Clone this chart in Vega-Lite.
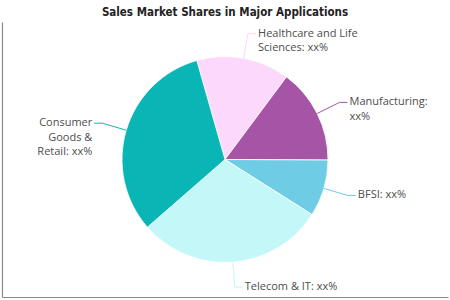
{
  "$schema": "https://vega.github.io/schema/vega-lite/v6.json",
  "width": 446,
  "height": 275,
  "autosize": {"type": "none"},
  "padding": {"left": 2, "top": 22, "right": 2, "bottom": 3},
  "background": "#ffffff",
  "config": {"view": {"stroke": null}},
  "title": {
    "text": "Sales Market Shares in Major Applications",
    "anchor": "middle",
    "font": "DejaVu Sans Condensed",
    "fontSize": 11.5,
    "fontWeight": "bold",
    "color": "#222222",
    "baseline": "alphabetic",
    "offset": 7,
    "dy": 12
  },
  "data": {
    "values": [
      {"category": "Healthcare and Life Sciences", "label": "Healthcare and Life\nSciences: xx%", "share": 14.6},
      {"category": "Manufacturing", "label": "Manufacturing:\nxx%", "share": 14.9},
      {"category": "BFSI", "label": "BFSI: xx%", "share": 8.9},
      {"category": "Telecom & IT", "label": "Telecom & IT: xx%", "share": 29.6},
      {"category": "Consumer Goods & Retail", "label": "Consumer\nGoods &\nRetail: xx%", "share": 32.0}
    ]
  },
  "transform": [
    {"stack": "share", "groupby": [], "as": ["start", "end"]},
    {"calculate": "(datum.start + datum.end) / 2", "as": "mid"},
    {"calculate": "-0.2775 + 2 * PI * datum.mid / 100", "as": "ang"},
    {"calculate": "103 * sin(datum.ang)", "as": "x1"},
    {"calculate": "103 * cos(datum.ang)", "as": "y1"},
    {"calculate": "128 * sin(datum.ang)", "as": "xe"},
    {"calculate": "128 * cos(datum.ang)", "as": "ye"},
    {"calculate": "datum.xe + (sin(datum.ang) >= 0 ? 8 : -8)", "as": "xt"}
  ],
  "layer": [
    {
      "mark": {"type": "arc", "outerRadius": 103, "stroke": "#ffffff", "strokeWidth": 0.8},
      "encoding": {
        "theta": {"field": "start", "type": "quantitative", "scale": {"domain": [0, 100], "range": [-0.2775, 6.0057]}},
        "theta2": {"field": "end"},
        "color": {
          "field": "category",
          "type": "nominal",
          "legend": null,
          "scale": {
            "domain": ["Healthcare and Life Sciences", "Manufacturing", "BFSI", "Telecom & IT", "Consumer Goods & Retail"],
            "range": ["#fcd8fc", "#a654a6", "#6ecde4", "#c4f7f7", "#0ab5b5"]
          }
        }
      }
    },
    {
      "mark": {"type": "rule", "strokeWidth": 1},
      "encoding": {
        "x": {"field": "x1", "type": "quantitative", "scale": {"domain": [-223, 223], "nice": false, "zero": false},
              "axis": {"domain": true, "domainColor": "#8a8a8a", "domainWidth": 1.2, "ticks": false, "labels": false, "grid": false, "title": null}},
        "y": {"field": "y1", "type": "quantitative", "scale": {"domain": [-137.5, 137.5], "nice": false, "zero": false},
              "axis": {"domain": true, "domainColor": "#8a8a8a", "domainWidth": 1.2, "ticks": false, "labels": false, "grid": false, "title": null}},
        "x2": {"field": "xe"},
        "y2": {"field": "ye"},
        "color": {"field": "category", "type": "nominal", "legend": null}
      }
    },
    {
      "mark": {"type": "rule", "strokeWidth": 1},
      "encoding": {
        "x": {"field": "xe", "type": "quantitative"},
        "y": {"field": "ye", "type": "quantitative"},
        "x2": {"field": "xt"},
        "color": {"field": "category", "type": "nominal", "legend": null}
      }
    },
    {
      "transform": [{"filter": "sin(datum.ang) >= 0"}],
      "mark": {"type": "text", "align": "left", "baseline": "middle", "dx": 2, "lineBreak": "\n", "lineHeight": 14.5,
               "font": "Open Sans", "fontSize": 11, "color": "#4d4d4d"},
      "encoding": {
        "x": {"field": "xt", "type": "quantitative"},
        "y": {"field": "ye", "type": "quantitative"},
        "text": {"field": "label"}
      }
    },
    {
      "transform": [{"filter": "sin(datum.ang) < 0"}],
      "mark": {"type": "text", "align": "right", "baseline": "middle", "dx": -2, "lineBreak": "\n", "lineHeight": 14.5,
               "font": "Open Sans", "fontSize": 11, "color": "#4d4d4d"},
      "encoding": {
        "x": {"field": "xt", "type": "quantitative"},
        "y": {"field": "ye", "type": "quantitative"},
        "text": {"field": "label"}
      }
    }
  ]
}
